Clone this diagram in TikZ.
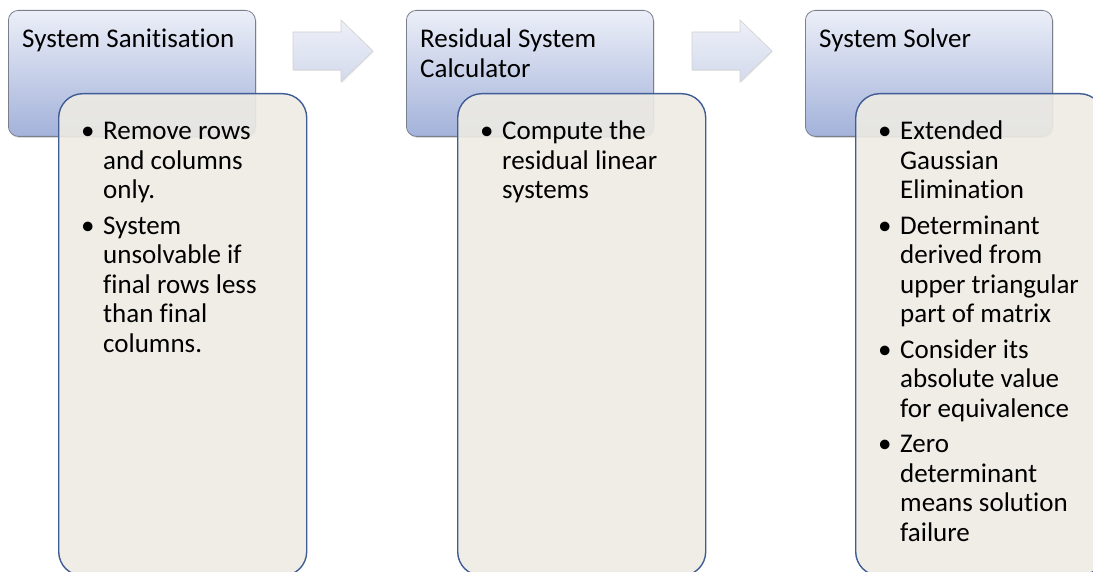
\documentclass[tikz,border=0pt]{standalone}
\usepackage{fontspec}
\setmainfont{Carlito}[Ligatures=NoCommon]
\usetikzlibrary{shadows}
\definecolor{hdrtop}{HTML}{ECEFF8}
\definecolor{hdrbot}{HTML}{A3B2DA}
\definecolor{hdrline}{HTML}{7A7F8C}
\definecolor{bodyfill}{HTML}{EDEBE3}
\definecolor{bodyline}{HTML}{3F5C96}
\definecolor{arrtop}{HTML}{EEF0F8}
\definecolor{arrbot}{HTML}{D3DAEC}
\begin{document}
\begin{tikzpicture}[x=1pt,y=-1pt,
  stage/.style={draw=hdrline, line width=0.8pt, rounded corners=10pt,
    top color=hdrtop, bottom color=hdrbot, minimum width=247pt,
    minimum height=126pt, anchor=north west, inner sep=0pt,
    drop shadow={shadow xshift=1.2pt, shadow yshift=-1.5pt, opacity=0.3}},
  detail/.style={draw=bodyline, line width=1.4pt, rounded corners=24pt,
    fill=bodyfill, fill opacity=0.9, minimum width=248pt,
    minimum height=482pt, anchor=north west, inner sep=0pt},
  title/.style={anchor=base west, inner sep=0pt,
    font=\fontsize{27}{29.5}\selectfont},
  points/.style={anchor=base west, inner sep=0pt,
    font=\fontsize{27}{29.5}\selectfont},
  flowarrow/.style={draw=black!18, line width=0.6pt, top color=arrtop,
    bottom color=arrbot,
    drop shadow={shadow xshift=1pt, shadow yshift=-1pt, opacity=0.15}}]
\clip (0,0) rectangle (1093,572);
% stage headers
\node[stage] (s1) at (8,10) {};
\node[stage] (s2) at (406,10) {};
\node[stage] (s3) at (805,10) {};
\node[title] (t1) at ([shift={(14,38)}]s1.north west) {System Sanitisation};
\node[title] (t2) at ([shift={(14,38)}]s2.north west)
  {\begin{tabular}[t]{@{}l@{}}Residual System\\Calculator\end{tabular}};
\node[title] (t3) at ([shift={(14,38)}]s3.north west) {System Solver};
% block arrows
\draw[flowarrow] (293,32) -- (341,32) -- (341,20) -- (373,51) -- (341,82) -- (341,70) -- (293,70) -- cycle;
\draw[flowarrow] (692,32) -- (740,32) -- (740,20) -- (772,51) -- (740,82) -- (740,70) -- (692,70) -- cycle;
% details
\node[detail] (d1) at (58,93) {};
\node[detail] (d2) at (457,93) {};
\node[detail] (d3) at (855,93) {};
\node[points] (p1) at ([shift={(23,47)}]d1.north west) {%
  \begin{tabular}[t]{@{}p{22pt}@{}l@{}}
  \textbullet & Remove rows\\
   & and columns\\
   & only.\\[6pt]
  \textbullet & System\\
   & unsolvable if\\
   & final rows less\\
   & than final\\
   & columns.
  \end{tabular}};
\node[points] (p2) at ([shift={(23,47)}]d2.north west) {%
  \begin{tabular}[t]{@{}p{22pt}@{}l@{}}
  \textbullet & Compute the\\
   & residual linear\\
   & systems
  \end{tabular}};
\node[points] (p3) at ([shift={(23,47)}]d3.north west) {%
  \begin{tabular}[t]{@{}p{22pt}@{}l@{}}
  \textbullet & Extended\\
   & Gaussian\\
   & Elimination\\[6pt]
  \textbullet & Determinant\\
   & derived from\\
   & upper triangular\\
   & part of matrix\\[6pt]
  \textbullet & Consider its\\
   & absolute value\\
   & for equivalence\\[6pt]
  \textbullet & Zero\\
   & determinant\\
   & means solution\\
   & failure
  \end{tabular}};
\end{tikzpicture}
\end{document}
